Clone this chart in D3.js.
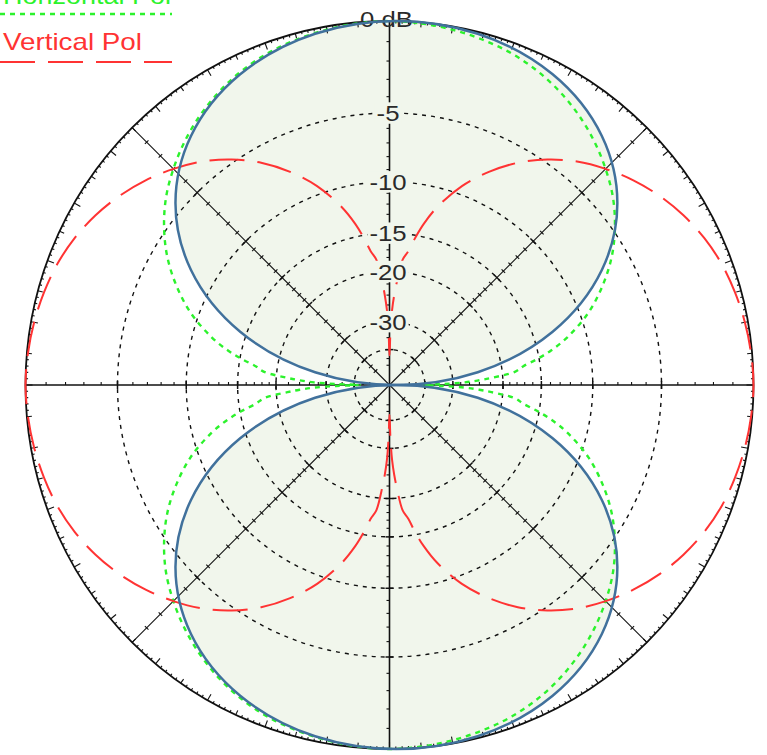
<!DOCTYPE html>
<html>
<head>
<meta charset="utf-8">
<script src="https://cdn.jsdelivr.net/npm/d3@7/dist/d3.min.js"></script>
<style>
  html, body { margin: 0; padding: 0; background: #fff; }
  svg { display: block; font-family: "Liberation Sans", Arial, sans-serif; }
</style>
</head>
<body>
<script>
// ---- Pattern data (bearing in degrees, 0 = up, clockwise; level in dB) ----
const vertAngles = [
  0,1,2,3,4,6,8,10,12,15,20,25,30,35,40,45,50,55,60,65,70,75,80,85,
  90,95,100,105,110,115,120,125,130,135,140,145,150,155,160,165,168,170,172,174,176,177,178,179,
  180,181,182,183,184,186,188,190,192,195,200,205,210,215,220,225,230,235,240,245,250,255,260,265,
  270,275,280,285,290,295,300,305,310,315,320,325,330,335,340,345,348,350,352,354,356,357,358,359
];
const vertDb = [
  -43,-33,-27,-24,-21.8,-18.2,-17,-15.2,-13.6,-11.7,-9.3,-7.5,-6,-4.8,-3.8,-3,-2.3,-1.7,-1.2,-0.8,-0.5,-0.3,-0.15,-0.05,
  0,-0.05,-0.15,-0.3,-0.5,-0.8,-1.2,-1.7,-2.3,-3,-3.8,-4.8,-6,-7.5,-9.3,-11.7,-13.6,-15.2,-17,-18.2,-21.8,-24,-27,-33,
  -43,-33,-27,-24,-21.8,-18.2,-17,-15.2,-13.6,-11.7,-9.3,-7.5,-6,-4.8,-3.8,-3,-2.3,-1.7,-1.2,-0.8,-0.5,-0.3,-0.15,-0.05,
  0,-0.05,-0.15,-0.3,-0.5,-0.8,-1.2,-1.7,-2.3,-3,-3.8,-4.8,-6,-7.5,-9.3,-11.7,-13.6,-15.2,-17,-18.2,-21.8,-24,-27,-33
];
const horzAngles = [
  0,5,10,15,20,25,30,35,40,45,50,55,60,65,70,75,78,80,82,84,86,87,88,89,
  90,91,92,93,94,96,98,100,102,105,110,115,120,125,130,135,140,145,150,155,160,165,170,175,
  180,185,190,195,200,205,210,215,220,225,230,235,240,245,250,255,258,260,262,264,266,267,268,269,
  270,271,272,273,274,276,278,280,282,285,290,295,300,305,310,315,320,325,330,335,340,345,350,355
];
const horzDb = [
  0,-0.05,-0.15,-0.3,-0.5,-0.8,-1.2,-1.7,-2.3,-3,-3.8,-4.8,-6,-7.5,-9.3,-11.7,-13.6,-15.2,-17,-18.2,-21.8,-24,-27,-33,
  -43,-33,-27,-24,-21.8,-18.2,-17,-15.2,-13.6,-11.7,-9.3,-7.5,-6,-4.8,-3.8,-3,-2.3,-1.7,-1.2,-0.8,-0.5,-0.3,-0.15,-0.05,
  0,-0.05,-0.15,-0.3,-0.5,-0.8,-1.2,-1.7,-2.3,-3,-3.8,-4.8,-6,-7.5,-9.3,-11.7,-13.6,-15.2,-17,-18.2,-21.8,-24,-27,-33,
  -43,-33,-27,-24,-21.8,-18.2,-17,-15.2,-13.6,-11.7,-9.3,-7.5,-6,-4.8,-3.8,-3,-2.3,-1.7,-1.2,-0.8,-0.5,-0.3,-0.15,-0.05
];

// Grid rings and their labels
const ringDb = [-5, -10, -15, -20, -30, -40];
const ringLabelDb = [-5, -10, -15, -20, -30];
const ringLabels = ["-5", "-10", "-15", "-20", "-30"];
const topLabel = "0 dB";
const axisTickDb = [-1,-2,-3,-4,-6,-7,-8,-9,-11,-12,-13,-14,-16,-17,-18,-19,-22,-24,-26,-28,-35,-45,-50];
const seriesNames = ["Horizontal Pol", "Vertical Pol"];

// ---- Layout ----
const W = 767, H = 755;
const cx = 389.5, cy = 385, R = 364;
const green = "#2cf22c", red = "#ff3333", panelFill = "#f1f6ec", outline = "#41719c";

// Log-periodic radial scale: each 2 dB shrinks the radius by 0.89.
// r = R * E^k with E the field ratio, k = -10*log10(0.89)
const rPow = d3.scalePow().exponent(-10 * Math.log10(0.89)).domain([0, 1]).range([0, R]).clamp(true);
const radius = db => rPow(Math.pow(10, db / 20));
const rad = a => a * Math.PI / 180;
const pt = (a, r) => [r * Math.sin(rad(a)), -r * Math.cos(rad(a))];

const svg = d3.select("body").append("svg").attr("width", W).attr("height", H);
svg.append("rect").attr("width", W).attr("height", H).attr("fill", "#fff");

const g = svg.append("g").attr("transform", `translate(${cx},${cy})`);

// Shaded lobes (two ellipses touching at the centre)
const lobes = [
  { cx: 0.019 * R, cy: -R / 2, rx: 0.607 * R, ry: R / 2 },
  { cx: 0.019 * R, cy: R / 2, rx: 0.607 * R, ry: R / 2 }
];
g.selectAll("ellipse.fill").data(lobes).join("ellipse")
  .attr("class", "fill")
  .attr("cx", d => d.cx).attr("cy", d => d.cy)
  .attr("rx", d => d.rx).attr("ry", d => d.ry)
  .attr("fill", panelFill).attr("stroke", "none");

// Dashed dB rings
g.selectAll("circle.ring").data(ringDb).join("circle")
  .attr("class", "ring")
  .attr("r", d => radius(d))
  .attr("fill", "none").attr("stroke", "#111")
  .attr("stroke-width", 1.4).attr("stroke-dasharray", "4,5");

// Radial axes (horizontal, vertical and the two diagonals)
const spokes = [0, 45, 90, 135, 180, 225, 270, 315];
g.selectAll("line.spoke").data(spokes).join("line")
  .attr("class", "spoke")
  .attr("x1", 0).attr("y1", 0)
  .attr("x2", d => pt(d, R)[0]).attr("y2", d => pt(d, R)[1])
  .attr("stroke", "#111")
  .attr("stroke-width", d => d % 90 === 0 ? 1.6 : 1.1);

// Ticks along each spoke
const tickG = g.append("g").attr("stroke", "#111").attr("stroke-width", 1.1);
spokes.forEach(a => {
  const [ux, uy] = [Math.cos(rad(a)), Math.sin(rad(a))]; // perpendicular to spoke
  // which side the minor ticks sit on
  let side;
  if (a === 90 || a === 270) side = [0, -1];
  else if (a === 0 || a === 180) side = [-1, 0];
  else side = null;
  axisTickDb.forEach(t => {
    const [x, y] = pt(a, radius(t));
    if (side) {
      tickG.append("line").attr("x1", x).attr("y1", y)
        .attr("x2", x + side[0] * 3).attr("y2", y + side[1] * 3);
    } else {
      tickG.append("line").attr("x1", x - ux * 2.5).attr("y1", y - uy * 2.5)
        .attr("x2", x + ux * 2.5).attr("y2", y + uy * 2.5);
    }
  });
  ringDb.forEach(t => {
    const [x, y] = pt(a, radius(t));
    tickG.append("line").attr("x1", x - ux * 4).attr("y1", y - uy * 4)
      .attr("x2", x + ux * 4).attr("y2", y + uy * 4).attr("stroke-width", 1.5);
  });
});

// Outer circle with degree ticks
g.append("circle").attr("r", R).attr("fill", "none")
  .attr("stroke", "#111").attr("stroke-width", 1.8);
const degTicks = d3.range(0, 360, 1);
g.append("g").selectAll("line").data(degTicks).join("line")
  .attr("x1", d => pt(d, R)[0]).attr("y1", d => pt(d, R)[1])
  .attr("x2", d => pt(d, R - (d % 10 === 0 ? 7 : d % 5 === 0 ? 5 : 2.5))[0])
  .attr("y2", d => pt(d, R - (d % 10 === 0 ? 7 : d % 5 === 0 ? 5 : 2.5))[1])
  .attr("stroke", "#111").attr("stroke-width", 1.1);

// Pattern traces
const radial = d3.lineRadial()
  .angle(d => rad(d.a))
  .radius(d => radius(d.db))
  .curve(d3.curveCatmullRomClosed.alpha(0.5));

const horzPts = horzAngles.map((a, i) => ({ a, db: horzDb[i] }));
const vertPts = vertAngles.map((a, i) => ({ a, db: vertDb[i] }));

g.append("path").attr("d", radial(horzPts))
  .attr("fill", "none").attr("stroke", green)
  .attr("stroke-width", 2.4).attr("stroke-dasharray", "5,5");
g.append("path").attr("d", radial(vertPts))
  .attr("fill", "none").attr("stroke", red)
  .attr("stroke-width", 2).attr("stroke-dasharray", "35,13");

// Ring labels along the upper vertical axis
const labelG = g.append("g");
ringLabelDb.forEach((db, i) => {
  const y = -radius(db);
  const lg = labelG.append("g").attr("transform", `translate(-1.5,${y})`);
  const txt = lg.append("text")
    .attr("text-anchor", "middle").attr("dy", "0.35em")
    .attr("font-size", 23).attr("fill", "#2a2a2a")
    .attr("transform", "scale(1.12,1)")
    .text(ringLabels[i]);
  const bb = txt.node().getBBox();
  lg.insert("rect", "text")
    .attr("x", bb.x * 1.12 - 2).attr("y", bb.y + 2)
    .attr("width", bb.width * 1.12 + 4).attr("height", bb.height - 4)
    .attr("fill", panelFill);
});
labelG.append("g").attr("transform", `translate(-3,${-radius(0) - 2})`)
  .append("text")
  .attr("text-anchor", "middle").attr("dy", "0.35em")
  .attr("font-size", 23).attr("fill", "#2a2a2a")
  .attr("transform", "scale(1.12,1)")
  .text(topLabel);

// Lobe outlines on top
g.selectAll("ellipse.edge").data(lobes).join("ellipse")
  .attr("class", "edge")
  .attr("cx", d => d.cx).attr("cy", d => d.cy)
  .attr("rx", d => d.rx).attr("ry", d => d.ry)
  .attr("fill", "none").attr("stroke", outline).attr("stroke-width", 2.5);

// Legend (top-left)
const legend = svg.append("g");
const legendItems = [
  { name: seriesNames[0], color: green, dash: "5,5", width: 2.6 },
  { name: seriesNames[1], color: red, dash: "35,13", width: 2 }
];
legendItems.forEach((d, i) => {
  const base = 4 + i * 46;
  legend.append("text")
    .attr("x", 3).attr("y", base)
    .attr("font-size", 24).attr("fill", d.color)
    .attr("textLength", i === 0 ? 168 : 139).attr("lengthAdjust", "spacingAndGlyphs")
    .text(d.name);
  legend.append("line")
    .attr("x1", 0).attr("x2", 172)
    .attr("y1", base + 10 + i * 2).attr("y2", base + 10 + i * 2)
    .attr("stroke", d.color).attr("stroke-width", d.width)
    .attr("stroke-dasharray", d.dash);
});
</script>
</body>
</html>
